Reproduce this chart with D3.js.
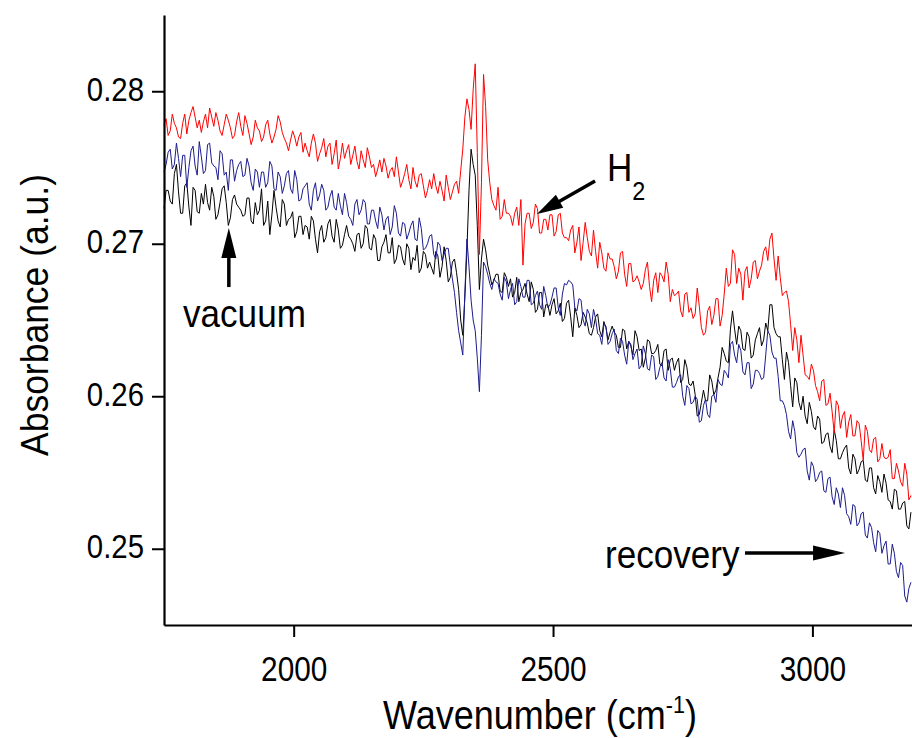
<!DOCTYPE html>
<html>
<head>
<meta charset="utf-8">
<script src="https://cdn.jsdelivr.net/npm/d3@7"></script>
<style>
  html, body { margin: 0; padding: 0; background: #fff; }
  svg { display: block; font-family: "Liberation Sans", Arial, Helvetica, sans-serif; }
</style>
</head>
<body>
<svg id="chart" width="912" height="738"></svg>
<script>
// Sampling grid of the FTIR spectra (cm^-1), 4 cm^-1 spacing
const wavenumbers = d3.range(1750, 3191, 4);

// Absorbance spectra (a.u.)
const h2 = [
  0.2778,0.2782,0.2771,0.2774,0.2785,0.2779,0.2776,0.2770,0.2769,0.2779,
  0.2785,0.2772,0.2781,0.2786,0.2790,0.2783,0.2776,0.2781,0.2773,0.2780,
  0.2785,0.2776,0.2789,0.2783,0.2777,0.2786,0.2781,0.2774,0.2771,0.2778,
  0.2785,0.2781,0.2776,0.2769,0.2771,0.2780,0.2786,0.2777,0.2771,0.2784,
  0.2779,0.2772,0.2765,0.2770,0.2781,0.2776,0.2774,0.2767,0.2770,0.2778,
  0.2781,0.2772,0.2766,0.2770,0.2775,0.2784,0.2780,0.2773,0.2769,0.2766,
  0.2761,0.2768,0.2774,0.2770,0.2764,0.2770,0.2773,0.2760,0.2766,0.2761,
  0.2757,0.2766,0.2772,0.2766,0.2754,0.2759,0.2763,0.2769,0.2757,0.2764,
  0.2766,0.2752,0.2759,0.2768,0.2749,0.2756,0.2766,0.2756,0.2761,0.2765,
  0.2752,0.2758,0.2764,0.2754,0.2749,0.2761,0.2755,0.2750,0.2763,0.2757,
  0.2750,0.2752,0.2744,0.2749,0.2755,0.2747,0.2756,0.2751,0.2743,0.2748,
  0.2750,0.2744,0.2757,0.2747,0.2737,0.2741,0.2746,0.2752,0.2742,0.2736,
  0.2750,0.2741,0.2737,0.2745,0.2746,0.2738,0.2730,0.2735,0.2742,0.2736,
  0.2746,0.2738,0.2733,0.2741,0.2735,0.2728,0.2745,0.2737,0.2729,0.2734,
  0.2739,0.2741,0.2733,0.2748,0.2762,0.2783,0.2795,0.2788,0.2775,0.2801,
  0.2818,0.2760,0.2693,0.2740,0.2811,0.2790,0.2755,0.2740,0.2729,0.2725,
  0.2722,0.2737,0.2716,0.2718,0.2729,0.2720,0.2720,0.2718,0.2712,0.2720,
  0.2724,0.2712,0.2729,0.2686,0.2713,0.2720,0.2720,0.2710,0.2714,0.2726,
  0.2723,0.2707,0.2707,0.2716,0.2716,0.2709,0.2719,0.2719,0.2705,0.2708,
  0.2719,0.2720,0.2707,0.2704,0.2704,0.2702,0.2709,0.2712,0.2694,0.2701,
  0.2711,0.2689,0.2701,0.2714,0.2704,0.2695,0.2692,0.2709,0.2695,0.2684,
  0.2701,0.2694,0.2684,0.2682,0.2694,0.2690,0.2690,0.2685,0.2677,0.2682,
  0.2694,0.2695,0.2680,0.2672,0.2687,0.2687,0.2675,0.2676,0.2679,0.2675,
  0.2670,0.2674,0.2683,0.2688,0.2672,0.2662,0.2676,0.2681,0.2668,0.2681,
  0.2679,0.2675,0.2688,0.2680,0.2662,0.2670,0.2666,0.2667,0.2669,0.2656,
  0.2652,0.2667,0.2668,0.2655,0.2658,0.2651,0.2654,0.2671,0.2659,0.2645,
  0.2640,0.2642,0.2656,0.2659,0.2647,0.2653,0.2664,0.2664,0.2646,0.2653,
  0.2667,0.2684,0.2672,0.2674,0.2696,0.2693,0.2674,0.2684,0.2680,0.2663,
  0.2682,0.2685,0.2671,0.2677,0.2688,0.2689,0.2677,0.2682,0.2686,0.2695,
  0.2698,0.2689,0.2703,0.2707,0.2690,0.2676,0.2692,0.2678,0.2666,0.2668,
  0.2669,0.2662,0.2647,0.2630,0.2645,0.2637,0.2622,0.2640,0.2627,0.2614,
  0.2613,0.2611,0.2621,0.2617,0.2607,0.2603,0.2597,0.2610,0.2611,0.2594,
  0.2595,0.2602,0.2590,0.2576,0.2597,0.2594,0.2579,0.2587,0.2590,0.2573,
  0.2583,0.2588,0.2574,0.2574,0.2584,0.2582,0.2571,0.2558,0.2581,0.2577,
  0.2565,0.2563,0.2572,0.2573,0.2557,0.2559,0.2569,0.2560,0.2559,0.2560,
  0.2565,0.2546,0.2546,0.2556,0.2551,0.2544,0.2541,0.2556,0.2549,0.2532,
  0.2535
];

const vacuum = [
  0.2723,0.2735,0.2735,0.2728,0.2726,0.2746,0.2752,0.2734,0.2720,0.2720,
  0.2738,0.2740,0.2724,0.2712,0.2737,0.2735,0.2721,0.2720,0.2733,0.2726,
  0.2739,0.2727,0.2722,0.2737,0.2731,0.2716,0.2719,0.2727,0.2736,0.2738,
  0.2727,0.2712,0.2717,0.2729,0.2732,0.2726,0.2724,0.2722,0.2718,0.2719,
  0.2730,0.2730,0.2715,0.2713,0.2727,0.2719,0.2722,0.2736,0.2712,0.2715,
  0.2728,0.2706,0.2719,0.2735,0.2724,0.2715,0.2711,0.2729,0.2726,0.2712,
  0.2716,0.2717,0.2721,0.2704,0.2708,0.2718,0.2718,0.2706,0.2712,0.2711,
  0.2703,0.2718,0.2715,0.2703,0.2694,0.2708,0.2712,0.2701,0.2704,0.2713,
  0.2716,0.2705,0.2701,0.2716,0.2709,0.2697,0.2699,0.2706,0.2712,0.2705,
  0.2703,0.2700,0.2695,0.2706,0.2707,0.2697,0.2700,0.2712,0.2710,0.2697,
  0.2696,0.2706,0.2703,0.2689,0.2689,0.2698,0.2701,0.2706,0.2694,0.2694,
  0.2704,0.2687,0.2690,0.2699,0.2698,0.2690,0.2686,0.2700,0.2697,0.2683,
  0.2691,0.2689,0.2699,0.2681,0.2684,0.2695,0.2693,0.2684,0.2688,0.2684,
  0.2680,0.2695,0.2692,0.2678,0.2685,0.2698,0.2689,0.2675,0.2678,0.2688,
  0.2690,0.2681,0.2670,0.2650,0.2640,0.2665,0.2696,0.2735,0.2762,0.2752,
  0.2745,0.2712,0.2670,0.2690,0.2703,0.2696,0.2686,0.2680,0.2673,0.2676,
  0.2680,0.2680,0.2669,0.2668,0.2681,0.2678,0.2672,0.2677,0.2665,0.2668,
  0.2678,0.2662,0.2668,0.2670,0.2674,0.2667,0.2662,0.2675,0.2670,0.2655,
  0.2657,0.2668,0.2668,0.2652,0.2660,0.2660,0.2653,0.2660,0.2664,0.2654,
  0.2656,0.2661,0.2649,0.2651,0.2661,0.2663,0.2652,0.2639,0.2658,0.2653,
  0.2645,0.2647,0.2655,0.2652,0.2648,0.2641,0.2640,0.2645,0.2652,0.2654,
  0.2643,0.2639,0.2649,0.2645,0.2637,0.2642,0.2646,0.2642,0.2640,0.2632,
  0.2632,0.2644,0.2643,0.2631,0.2636,0.2633,0.2627,0.2643,0.2639,0.2630,
  0.2631,0.2619,0.2625,0.2637,0.2636,0.2628,0.2628,0.2630,0.2634,0.2621,
  0.2620,0.2630,0.2631,0.2617,0.2624,0.2625,0.2617,0.2622,0.2625,0.2609,
  0.2611,0.2624,0.2619,0.2608,0.2607,0.2610,0.2601,0.2587,0.2588,0.2596,
  0.2604,0.2597,0.2597,0.2614,0.2610,0.2601,0.2604,0.2612,0.2619,0.2632,
  0.2628,0.2623,0.2622,0.2644,0.2656,0.2644,0.2634,0.2646,0.2643,0.2631,
  0.2630,0.2642,0.2639,0.2625,0.2627,0.2637,0.2641,0.2645,0.2633,0.2637,
  0.2648,0.2643,0.2660,0.2660,0.2645,0.2641,0.2639,0.2639,0.2624,0.2611,
  0.2629,0.2622,0.2607,0.2593,0.2612,0.2609,0.2596,0.2591,0.2600,0.2587,
  0.2582,0.2596,0.2590,0.2580,0.2578,0.2587,0.2585,0.2569,0.2570,0.2575,
  0.2576,0.2567,0.2563,0.2578,0.2571,0.2559,0.2559,0.2563,0.2566,0.2568,
  0.2553,0.2549,0.2562,0.2559,0.2549,0.2552,0.2557,0.2558,0.2545,0.2544,
  0.2553,0.2553,0.2540,0.2536,0.2548,0.2544,0.2537,0.2549,0.2543,0.2532,
  0.2531,0.2526,0.2539,0.2538,0.2526,0.2526,0.2530,0.2531,0.2515,0.2513,
  0.2524
];

const recovery = [
  0.2747,0.2752,0.2760,0.2762,0.2749,0.2752,0.2766,0.2756,0.2744,0.2758,
  0.2758,0.2737,0.2750,0.2761,0.2764,0.2751,0.2745,0.2767,0.2757,0.2746,
  0.2748,0.2765,0.2766,0.2753,0.2751,0.2750,0.2742,0.2761,0.2759,0.2745,
  0.2747,0.2735,0.2755,0.2755,0.2741,0.2748,0.2752,0.2754,0.2744,0.2745,
  0.2756,0.2751,0.2740,0.2735,0.2749,0.2747,0.2737,0.2747,0.2747,0.2737,
  0.2740,0.2754,0.2751,0.2736,0.2735,0.2747,0.2744,0.2733,0.2738,0.2746,
  0.2748,0.2736,0.2733,0.2748,0.2742,0.2728,0.2729,0.2736,0.2738,0.2740,
  0.2726,0.2722,0.2735,0.2740,0.2728,0.2732,0.2739,0.2735,0.2722,0.2724,
  0.2731,0.2735,0.2724,0.2722,0.2733,0.2725,0.2719,0.2733,0.2727,0.2718,
  0.2716,0.2712,0.2726,0.2729,0.2719,0.2722,0.2729,0.2727,0.2713,0.2713,
  0.2722,0.2722,0.2715,0.2710,0.2724,0.2719,0.2709,0.2716,0.2718,0.2706,
  0.2711,0.2725,0.2720,0.2707,0.2705,0.2714,0.2713,0.2703,0.2707,0.2712,
  0.2715,0.2703,0.2702,0.2717,0.2710,0.2696,0.2697,0.2700,0.2705,0.2706,
  0.2693,0.2690,0.2701,0.2699,0.2689,0.2693,0.2697,0.2697,0.2686,0.2677,
  0.2668,0.2655,0.2643,0.2635,0.2627,0.2668,0.2703,0.2685,0.2663,0.2650,
  0.2643,0.2625,0.2603,0.2640,0.2688,0.2685,0.2680,0.2674,0.2670,0.2677,
  0.2675,0.2674,0.2667,0.2663,0.2678,0.2675,0.2664,0.2670,0.2674,0.2660,
  0.2662,0.2677,0.2672,0.2665,0.2665,0.2676,0.2676,0.2660,0.2661,0.2666,
  0.2669,0.2660,0.2657,0.2672,0.2666,0.2658,0.2660,0.2665,0.2671,0.2671,
  0.2658,0.2653,0.2667,0.2674,0.2673,0.2676,0.2675,0.2673,0.2658,0.2656,
  0.2664,0.2663,0.2650,0.2646,0.2657,0.2654,0.2645,0.2657,0.2651,0.2641,
  0.2640,0.2634,0.2647,0.2646,0.2634,0.2636,0.2641,0.2644,0.2630,0.2628,
  0.2638,0.2636,0.2627,0.2621,0.2636,0.2634,0.2624,0.2628,0.2631,0.2618,
  0.2620,0.2633,0.2628,0.2618,0.2617,0.2627,0.2626,0.2611,0.2613,0.2619,
  0.2622,0.2612,0.2610,0.2624,0.2618,0.2606,0.2606,0.2609,0.2613,0.2614,
  0.2600,0.2594,0.2607,0.2605,0.2595,0.2596,0.2600,0.2598,0.2583,0.2584,
  0.2594,0.2598,0.2588,0.2586,0.2600,0.2601,0.2596,0.2611,0.2608,0.2607,
  0.2617,0.2615,0.2612,0.2634,0.2636,0.2627,0.2622,0.2634,0.2630,0.2616,
  0.2614,0.2622,0.2622,0.2605,0.2608,0.2617,0.2617,0.2615,0.2611,0.2612,
  0.2627,0.2643,0.2640,0.2629,0.2625,0.2625,0.2613,0.2597,0.2597,0.2594,
  0.2588,0.2577,0.2572,0.2584,0.2577,0.2563,0.2560,0.2562,0.2565,0.2566,
  0.2551,0.2545,0.2557,0.2554,0.2544,0.2546,0.2550,0.2551,0.2538,0.2537,
  0.2546,0.2547,0.2534,0.2529,0.2540,0.2536,0.2527,0.2540,0.2535,0.2523,
  0.2521,0.2516,0.2529,0.2528,0.2515,0.2517,0.2523,0.2524,0.2509,0.2507,
  0.2517,0.2514,0.2504,0.2498,0.2512,0.2510,0.2497,0.2502,0.2505,0.2490,
  0.2490,0.2503,0.2497,0.2485,0.2481,0.2491,0.2489,0.2469,0.2465,0.2474,
  0.2478
];

// Axis ticks
const xMajorTicks = [2000, 2500, 3000];
const xMinorTicks = [1750, 2250, 2750];
const yMajorTicks = [0.25, 0.26, 0.27, 0.28];
const yMinorTicks = [0.245, 0.255, 0.265, 0.275, 0.285];

const svg = d3.select("#chart");
svg.append("rect").attr("width", 912).attr("height", 738).attr("fill", "#fff");

const x = d3.scaleLinear().domain([1750, 3192]).range([164, 912]);
const y = d3.scaleLinear().domain([0.245, 0.285]).range([625, 15]);

// Spectra
const series = [
  { values: vacuum,   color: "#000000" },
  { values: h2,       color: "#ff0000" },
  { values: recovery, color: "#1c1c8e" }
];
const line = d3.line()
  .x((d, i) => x(wavenumbers[i]))
  .y(d => y(d));

svg.append("g").selectAll("path")
  .data(series)
  .join("path")
  .attr("d", s => line(s.values))
  .attr("fill", "none")
  .attr("stroke", s => s.color)
  .attr("stroke-width", 1)
  .attr("stroke-linejoin", "round");

// Axes
const gy = svg.append("g").attr("transform", "translate(164,0)");
gy.call(d3.axisLeft(y).tickValues(yMinorTicks).tickSize(7).tickSizeOuter(0).tickFormat(""));
gy.call(d3.axisLeft(y).tickValues(yMajorTicks).tickSize(12).tickSizeOuter(0).tickFormat(d3.format(".2f")));

const gx = svg.append("g").attr("transform", "translate(0,625)");
gx.call(d3.axisBottom(x).tickValues(xMinorTicks).tickSize(7).tickSizeOuter(0).tickFormat(""));
gx.call(d3.axisBottom(x).tickValues(xMajorTicks).tickSize(12).tickSizeOuter(0).tickFormat(d3.format("d")));

svg.selectAll(".domain").attr("stroke", "#000").attr("stroke-width", 2.2);
svg.selectAll(".tick line").attr("stroke", "#000").attr("stroke-width", 2);

gy.selectAll(".tick text")
  .attr("x", null).attr("dy", "0.27em")
  .attr("transform", "translate(-20,0) scale(0.89,1)")
  .attr("font-size", 33).attr("fill", "#000")
  .attr("font-family", "Liberation Sans, Arial, sans-serif");

gx.selectAll(".tick text")
  .attr("y", null).attr("dy", null)
  .attr("transform", "translate(0,56) scale(0.85,1)")
  .attr("font-size", 35).attr("fill", "#000")
  .attr("font-family", "Liberation Sans, Arial, sans-serif");

// Axis titles
const xt = svg.append("text")
  .attr("transform", "translate(540,729) scale(0.9,1)")
  .attr("text-anchor", "middle")
  .attr("font-size", 40);
xt.append("tspan").text("Wavenumber (cm");
xt.append("tspan").attr("font-size", 24).attr("dy", -16).text("-1");
xt.append("tspan").attr("dy", 16).text(")");

svg.append("text")
  .attr("transform", "translate(48,315) rotate(-90) scale(0.91,1)")
  .attr("text-anchor", "middle")
  .attr("font-size", 39)
  .text("Absorbance (a.u.)");

// Annotation arrows (anchored in data coordinates)
function arrow(w1, a1, w2, a2, headLen, headW) {
  const x1 = x(w1), y1 = y(a1), x2 = x(w2), y2 = y(a2);
  const dx = x2 - x1, dy = y2 - y1, len = Math.hypot(dx, dy);
  const ux = dx / len, uy = dy / len;
  const bx = x2 - ux * headLen, by = y2 - uy * headLen;
  svg.append("line")
    .attr("x1", x1).attr("y1", y1).attr("x2", bx + ux * 2).attr("y2", by + uy * 2)
    .attr("stroke", "#000").attr("stroke-width", 3.5);
  svg.append("path")
    .attr("d", `M${x2},${y2}L${bx - uy * headW / 2},${by + ux * headW / 2}L${bx + uy * headW / 2},${by - ux * headW / 2}Z`)
    .attr("fill", "#000");
}

arrow(1875, 0.26716, 1875, 0.27103, 30, 15);
arrow(2581, 0.27411, 2469, 0.27195, 26, 15);
arrow(2870, 0.24972, 3063, 0.24972, 32, 15);

// Annotation labels
svg.append("text")
  .attr("transform", "translate(183,327) scale(0.9,1)")
  .attr("font-size", 39).text("vacuum");

const h2Label = svg.append("text")
  .attr("transform", "translate(607,181) scale(0.9,1)")
  .attr("font-size", 39);
h2Label.append("tspan").text("H");
h2Label.append("tspan").attr("font-size", 26).attr("dy", 19).text("2");

svg.append("text")
  .attr("transform", "translate(605,568) scale(0.9,1)")
  .attr("font-size", 39).text("recovery");
</script>
</body>
</html>
